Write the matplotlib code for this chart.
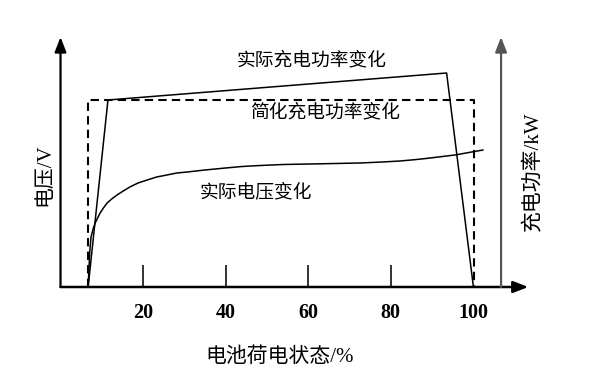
import matplotlib
matplotlib.use("Agg")
import matplotlib.pyplot as plt

# ---- data (SOC in %, vertical values in arbitrary chart units) ----
soc_ticks = [20, 40, 60, 80, 100]
tick_labels = ["20", "40", "60", "80", "100"]

simple_soc = [6.7, 6.7, 100.2, 100.2]
simple_power = [0, 187, 187, 0]

actual_soc = [6.7, 11.5, 93.6, 100.1]
actual_power = [0, 187, 214, 0]

volt_soc = [6.7, 6.9, 7.1, 7.4, 7.9, 8.4, 9.0, 9.6, 10.4, 11.3, 12.4, 13.7,
            15.2, 16.8, 18.8, 21.0, 23.3, 25.8, 28.2, 30.7, 35.0, 40.0,
            44.0, 48.4, 54.0, 60.5, 66.5, 72.6, 78.0, 82.3, 85.8, 88.8,
            92.2, 95.6, 99.0, 102.4]
volt_val = [0, 18, 36, 50, 58, 64, 69, 74, 79, 84, 88, 92,
            96, 100, 104, 107, 110, 112, 114, 115, 117, 119,
            120.5, 121.5, 122.5, 123, 123.5, 124, 125, 126, 127.3, 128.6,
            130.3, 132, 134.5, 137]

cjk = ["Noto Sans CJK SC", "DejaVu Sans"]
mixed = ["Liberation Serif", "Noto Sans CJK SC"]
num_font = "Liberation Serif"

fig = plt.figure(figsize=(5.98, 3.87), dpi=100)
ax = fig.add_axes([0, 0, 1, 1])
ax.set_xlim(-14.67, 130.3)
ax.set_ylim(-100, 287)
ax.axis("off")

# axes with arrows
ax.annotate("", xy=(0, 250), xytext=(0, 0),
            arrowprops=dict(arrowstyle="-|>,head_length=0.9,head_width=0.35",
                            color="black", lw=1.6, shrinkA=0, shrinkB=0))
ax.annotate("", xy=(113.4, 0), xytext=(0, 0),
            arrowprops=dict(arrowstyle="-|>,head_length=0.9,head_width=0.35",
                            color="black", lw=1.8, shrinkA=0, shrinkB=0))
ax.annotate("", xy=(106.8, 250), xytext=(106.8, 0),
            arrowprops=dict(arrowstyle="-|>,head_length=0.9,head_width=0.35",
                            color="#555555", lw=1.6, shrinkA=0, shrinkB=0))

# tick marks (pointing up) and labels
for t, lab in zip(soc_ticks, tick_labels):
    if t != 100:
        ax.plot([t, t], [0, 21], color="#333333", lw=1.4)
    ax.text(t, -26, lab, ha="center", va="center", fontsize=14.5,
            fontweight="bold", family=num_font)

# curves
ax.plot(simple_soc, simple_power, color="black", lw=1.5, dashes=(4, 2.5))
ax.plot(actual_soc, actual_power, color="black", lw=1.1)
ax.plot(volt_soc, volt_val, color="black", lw=1.1)

# annotations
ax.text(60.8, 227, "实际充电功率变化", ha="center", va="center", fontsize=13.5, family=cjk)
ax.text(64.2, 175, "简化充电功率变化", ha="center", va="center", fontsize=13.5, family=cjk)
ax.text(47.4, 95, "实际电压变化", ha="center", va="center", fontsize=13.5, family=cjk)

# axis labels
ax.text(53, -70, "电池荷电状态/%", ha="center", va="center", fontsize=15, family=mixed)
ax.text(-3.8, 112, "电压/V", ha="center", va="center", fontsize=15, rotation=90, family=mixed)
ax.text(114.5, 116, "充电功率/kW", ha="center", va="center", fontsize=15, rotation=90, family=mixed)

fig.savefig("out.png", dpi=100)
